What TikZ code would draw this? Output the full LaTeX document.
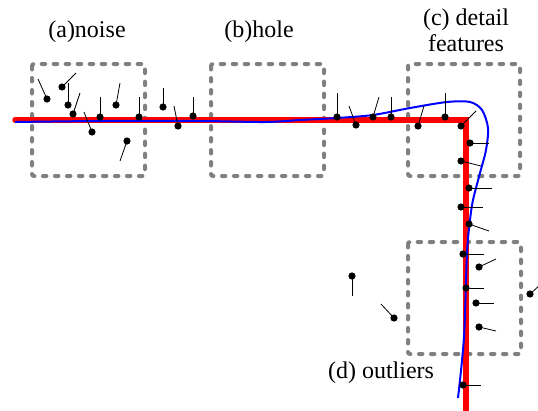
\documentclass[tikz,border=0pt]{standalone}
\usepackage{fontspec}
\setmainfont{Liberation Serif}
\begin{document}
\begin{tikzpicture}[x=1pt,y=-1pt]
    \tikzset{region/.style = {draw=gray, line width=4pt, dash pattern=on 3.5pt off 8.5pt, line cap=round, rounded corners=2pt}}
    \tikzset{model/.style = {draw=red, line width=5.5pt, line cap=round}}
    \tikzset{scan/.style = {draw=blue, line width=2pt}}
    \tikzset{normal/.style = {draw=black, line width=0.8pt}}
    \tikzset{label/.style = {font=\fontsize{24}{26}\selectfont, align=center, inner sep=0pt}}

    \useasboundingbox (0,0) rectangle (538,410);

    % regions
    \draw[region] (32,64) rectangle (145,176);
    \draw[region] (211,64) rectangle (324,176);
    \draw[region] (408,64) rectangle (520,176);
    \draw[region] (408,242) rectangle (521,354);

    % labels
    \node[label] (noise) at (87,32) {(a)noise};
    \node[label] (hole) at (259,32) {(b)hole};
    \node[label] (detail) at (466,30) {(c) detail\\features};
    \node[label] (outliers) at (381,373) {(d) outliers};

    % true surface and fitted curve
    \draw[model] (15,120) -- (466,120) -- (466,410);
    \draw[scan] plot[smooth, tension=0.5] coordinates {(15,122) (100,121) (200,121) (265,122) (300,120) (337,118) (373,115) (410,108) (447,102) (470,102) (482,110) (488,128) (486,150) (480,173) (473,200) (470,220) (467,253) (464,337) (458,398)};

    % samples with normals
    \foreach \sx/\sy/\ex/\ey in {47/99/38/79, 62/87/76/73, 68/105/68/83, 73/114/80/93, 92/132/84/112,
        100/117/100/97, 116/105/120/83, 127/141/120/161, 139/117/139/97, 163/107/163/88,
        178/126/174/106, 193/116/193/97, 337/117/337/93, 356/125/349/106, 373/117/379/97,
        391/117/391/97, 418/126/424/106, 445/117/445/93, 461/126/476/111, 470/143/489/143,
        461/161/481/166, 469/188/492/188, 461/207/483/207, 469/224/489/231, 463/254/484/254,
        479/267/496/259, 352/276/352/296, 466/288/484/288, 530/294/540/285, 476/303/494/303,
        394/318/381/304, 479/327/496/331, 463/385/481/385}
    {
        \draw[normal] (\sx,\sy) -- (\ex,\ey);
        \fill (\sx,\sy) circle (3.6);
    }
\end{tikzpicture}
\end{document}
